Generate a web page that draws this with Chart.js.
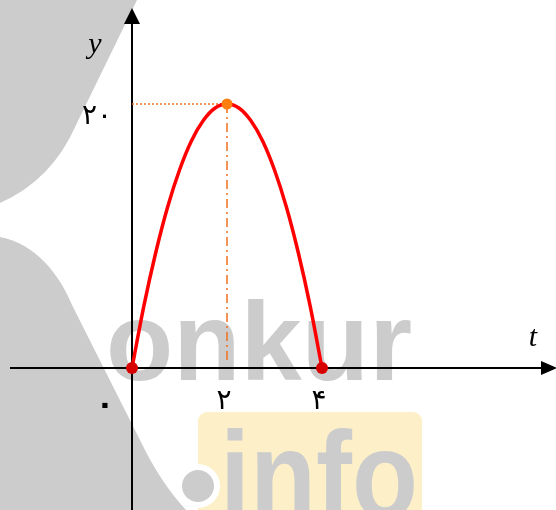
<!DOCTYPE html>
<html>
<head>
<meta charset="utf-8">
<script src="https://cdn.jsdelivr.net/npm/chart.js@4/dist/chart.umd.min.js"></script>
<style>
  html, body { margin: 0; padding: 0; background: #ffffff; }
  #wrap { width: 556px; height: 510px; }
</style>
</head>
<body>
<div id="wrap"><canvas id="c" width="556" height="510"></canvas></div>
<script>
// ---- data ----
const tValues = [0, 0.25, 0.5, 0.75, 1, 1.25, 1.5, 1.75, 2, 2.25, 2.5, 2.75, 3, 3.25, 3.5, 3.75, 4];
const yValues = [0, 4.7, 8.75, 12.2, 15, 17.2, 18.75, 19.7, 20, 19.7, 18.75, 17.2, 15, 12.2, 8.75, 4.7, 0];
const peakPoint = [2, 20];
const rootPoints = [[0, 0], [4, 0]];
const xTickValues = [2, 4];
const xTickLabels = ['۲', '۴'];
const yTickValues = [20];
const yTickLabels = ['۲۰'];
const originLabel = '۰';
const xAxisTitle = 't';
const yAxisTitle = 'y';

// ---- styles ----
const curveColor = '#ff0000';
const rootColor = '#d60000';
const peakColor = '#ff7f0e';
const guideColor = '#f07020';
const wmGray = '#cccccc';
const wmYellow = '#fdf0c8';

const watermark = {
  id: 'watermark',
  beforeDatasetsDraw(chart) {
    const ctx = chart.ctx;
    ctx.save();
    // left gray shapes
    ctx.fillStyle = wmGray;
    ctx.beginPath();
    ctx.moveTo(0, 0);
    ctx.lineTo(137, 0);
    ctx.lineTo(76, 125);
    ctx.quadraticCurveTo(52, 180, 0, 203);
    ctx.closePath();
    ctx.fill();
    ctx.beginPath();
    ctx.moveTo(0, 237);
    ctx.bezierCurveTo(35, 243, 60, 275, 72, 305);
    ctx.lineTo(140, 440);
    ctx.quadraticCurveTo(160, 482, 186, 510);
    ctx.lineTo(0, 510);
    ctx.closePath();
    ctx.fill();
    // yellow box
    ctx.fillStyle = wmYellow;
    ctx.beginPath();
    if (ctx.roundRect) ctx.roundRect(198, 412, 224, 120, 9); else ctx.rect(198, 412, 224, 120);
    ctx.fill();
    // words
    ctx.fillStyle = wmGray;
    ctx.textBaseline = 'alphabetic';
    ctx.textAlign = 'left';
    ctx.font = 'bold 112px "Liberation Sans", Arial, sans-serif';
    let w = ctx.measureText('onkur').width;
    ctx.save();
    ctx.translate(106, 380);
    ctx.scale(306 / w, 1);
    ctx.fillText('onkur', 0, 0);
    ctx.restore();
    ctx.font = 'bold 124px "Liberation Sans", Arial, sans-serif';
    w = ctx.measureText('info').width;
    ctx.save();
    ctx.translate(220, 518);
    ctx.scale(198 / w, 1);
    ctx.fillText('info', 0, 0);
    ctx.restore();
    // dot
    ctx.fillStyle = '#ffffff';
    ctx.beginPath(); ctx.arc(198, 486, 22, 0, Math.PI * 2); ctx.fill();
    ctx.fillStyle = wmGray;
    ctx.beginPath(); ctx.arc(198, 486, 16, 0, Math.PI * 2); ctx.fill();

    // axes
    const xs = chart.scales.x, ys = chart.scales.y;
    const x0 = xs.getPixelForValue(0), y0 = ys.getPixelForValue(0);
    ctx.strokeStyle = '#000000';
    ctx.fillStyle = '#000000';
    ctx.lineWidth = 2;
    ctx.beginPath();
    ctx.moveTo(10, y0); ctx.lineTo(545, y0);
    ctx.moveTo(x0, 510); ctx.lineTo(x0, 20);
    ctx.stroke();
    ctx.beginPath();
    ctx.moveTo(557, y0); ctx.lineTo(541, y0 - 7); ctx.lineTo(541, y0 + 7); ctx.closePath(); ctx.fill();
    ctx.beginPath();
    ctx.moveTo(x0, 8); ctx.lineTo(x0 - 8, 24); ctx.lineTo(x0 + 8, 24); ctx.closePath(); ctx.fill();

    // tick labels
    ctx.font = '28px "DejaVu Sans", sans-serif';
    ctx.textAlign = 'center';
    ctx.textBaseline = 'middle';
    xTickValues.forEach((v, i) => {
      ctx.fillText(xTickLabels[i], xs.getPixelForValue(v) - 3, y0 + 34);
    });
    ctx.textAlign = 'right';
    yTickValues.forEach((v, i) => {
      ctx.fillText(yTickLabels[i], x0 - 20, ys.getPixelForValue(v) + 13);
    });
    ctx.textAlign = 'center';
    ctx.font = 'bold 30px "DejaVu Sans", sans-serif';
    ctx.fillText(originLabel, x0 - 27, y0 + 38);

    // axis titles
    ctx.font = 'italic 30px "Liberation Serif", "DejaVu Serif", serif';
    ctx.fillText(yAxisTitle, x0 - 37, 45);
    ctx.fillText(xAxisTitle, 533, y0 - 30);
    ctx.restore();
  }
};

const curve = tValues.map((t, i) => ({ x: t, y: yValues[i] }));

new Chart(document.getElementById('c'), {
  type: 'line',
  data: {
    datasets: [
      {
        data: [{ x: 0, y: peakPoint[1] }, { x: peakPoint[0], y: peakPoint[1] }],
        borderColor: guideColor, borderWidth: 1.5, borderDash: [2, 2],
        pointRadius: 0, fill: false, order: 5
      },
      {
        data: [{ x: peakPoint[0], y: peakPoint[1] }, { x: peakPoint[0], y: 0.6 }],
        borderColor: guideColor, borderWidth: 1.5, borderDash: [9, 4, 2, 4],
        pointRadius: 0, fill: false, order: 4
      },
      {
        data: curve,
        borderColor: curveColor, borderWidth: 3.5, cubicInterpolationMode: 'monotone',
        pointRadius: 0, fill: false, order: 3
      },
      {
        data: rootPoints.map(p => ({ x: p[0], y: p[1] })),
        showLine: false, pointRadius: 6, pointBackgroundColor: rootColor,
        pointBorderWidth: 0, borderColor: rootColor, order: 2
      },
      {
        data: [{ x: peakPoint[0], y: peakPoint[1] }],
        showLine: false, pointRadius: 5.5, pointBackgroundColor: peakColor,
        pointBorderWidth: 0, borderColor: peakColor, order: 1
      }
    ]
  },
  options: {
    responsive: false,
    devicePixelRatio: 1,
    animation: false,
    layout: { padding: 0, autoPadding: false },
    plugins: { legend: { display: false }, tooltip: { enabled: false } },
    events: [],
    scales: {
      x: { type: 'linear', min: -2.779, max: 8.926, display: false },
      y: { type: 'linear', min: -10.76, max: 27.88, display: false }
    }
  },
  plugins: [watermark]
});
</script>
</body>
</html>
